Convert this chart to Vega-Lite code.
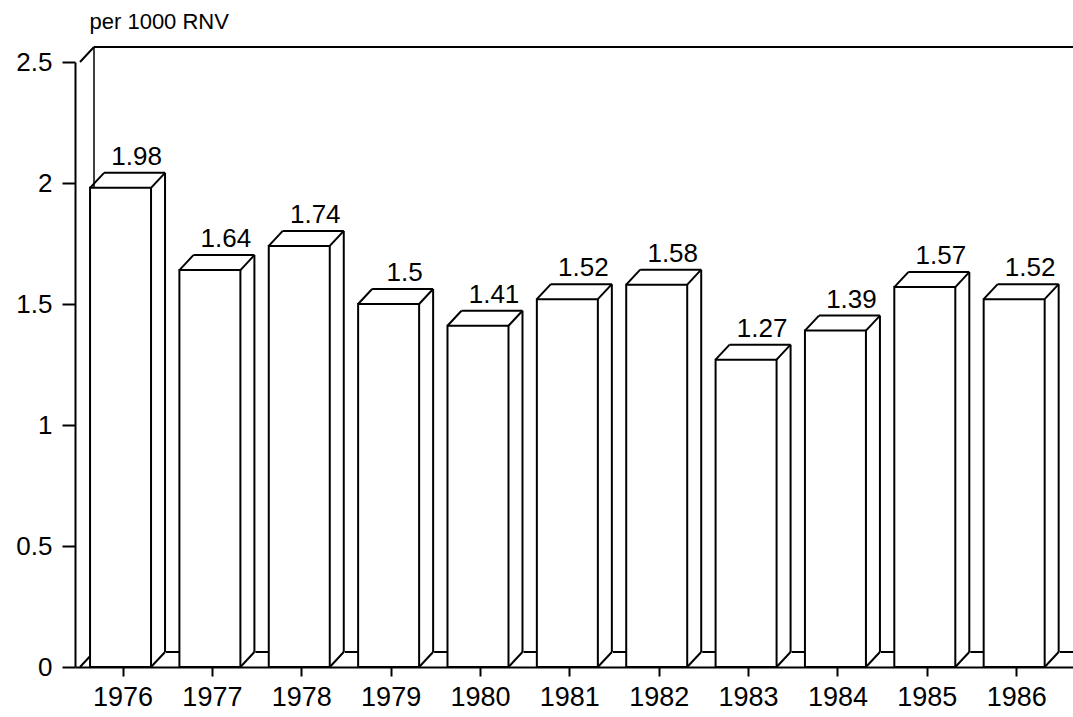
{
  "$schema": "https://vega.github.io/schema/vega-lite/v6.json",
  "autosize": "none",
  "width": 998,
  "height": 605,
  "padding": {"left": 75, "top": 62, "right": 0, "bottom": 50},
  "background": "white",
  "config": {
    "view": {"stroke": null},
    "font": "Liberation Sans",
    "axis": {"grid": false, "domainColor": "black", "tickColor": "black", "labelColor": "black", "titleColor": "black", "domainWidth": 2, "tickWidth": 2}
  },
  "datasets": {
    "frame": [
      {"start": 1975.524, "end": 1986.58, "level": 0},
      {"start": 1975.524, "end": 1986.58, "level": 2.5}
    ]
  },
  "data": {
    "values": [
      {"year": 1976, "value": 1.98},
      {"year": 1977, "value": 1.64},
      {"year": 1978, "value": 1.74},
      {"year": 1979, "value": 1.5},
      {"year": 1980, "value": 1.41},
      {"year": 1981, "value": 1.52},
      {"year": 1982, "value": 1.58},
      {"year": 1983, "value": 1.27},
      {"year": 1984, "value": 1.39},
      {"year": 1985, "value": 1.57},
      {"year": 1986, "value": 1.52}
    ]
  },
  "encoding": {
    "x": {
      "field": "year", "type": "quantitative",
      "scale": {"domain": [1975.524, 1986.58], "nice": false, "zero": false},
      "axis": {"values": [1976, 1977, 1978, 1979, 1980, 1981, 1982, 1983, 1984, 1985, 1986], "format": "d", "title": null, "tickSize": 9, "labelFontSize": 27, "labelPadding": 8, "labelFlush": false}
    },
    "y": {
      "field": "value", "type": "quantitative",
      "scale": {"domain": [0, 2.5], "nice": false},
      "axis": {"values": [0, 0.5, 1, 1.5, 2, 2.5], "format": "~g", "tickSize": 13, "labelFontSize": 26, "labelPadding": 10,
        "title": "per 1000 RNV", "titleAngle": 0, "titleAlign": "left", "titleBaseline": "alphabetic", "titleX": 14, "titleY": -34, "titleFontSize": 22, "titleFontWeight": "normal"}
    }
  },
  "layer": [
    {
      "data": {"name": "frame"},
      "mark": {"type": "rule", "color": "black", "strokeWidth": 2, "xOffset": 14, "x2Offset": 14, "yOffset": -15, "y2Offset": -15},
      "encoding": {
        "x": {"field": "start", "type": "quantitative"},
        "x2": {"field": "end"},
        "y": {"field": "level", "type": "quantitative"},
        "y2": {"field": "level"}
      }
    },
    {
      "data": {"name": "frame"},
      "mark": {"type": "rule", "color": "black", "strokeWidth": 2, "x2Offset": 14, "y2Offset": -15},
      "encoding": {
        "x": {"field": "start", "type": "quantitative"},
        "x2": {"field": "start"},
        "y": {"field": "level", "type": "quantitative"},
        "y2": {"field": "level"}
      }
    },
    {
      "data": {"name": "frame"},
      "transform": [{"filter": "datum.level == 0"}],
      "mark": {"type": "rule", "color": "black", "strokeWidth": 1.5, "xOffset": 14, "yOffset": -15, "y2Offset": -15},
      "encoding": {
        "x": {"field": "start", "type": "quantitative"},
        "y": {"field": "level", "type": "quantitative"},
        "y2": {"datum": 2.5}
      }
    },
    {
      "mark": {"type": "bar", "fill": "white", "strokeWidth": 0, "width": 15, "xOffset": 36, "yOffset": -15, "y2Offset": -13.5},
      "encoding": {"y2": {"datum": 0}}
    },
    {
      "mark": {"type": "bar", "fill": "white", "stroke": "black", "strokeWidth": 2, "width": 61, "xOffset": -2}
    },
    {
      "mark": {"type": "rule", "color": "black", "strokeWidth": 2, "xOffset": -18.5, "x2Offset": 42.5, "yOffset": -15, "y2Offset": -15},
      "encoding": {"x2": {"field": "year"}, "y2": {"field": "value"}}
    },
    {
      "mark": {"type": "rule", "color": "black", "strokeWidth": 2, "xOffset": 42.5, "yOffset": -15, "y2Offset": -15},
      "encoding": {"y2": {"datum": 0}}
    },
    {
      "mark": {"type": "rule", "color": "black", "strokeWidth": 2, "xOffset": -32.5, "x2Offset": -18.5, "y2Offset": -15},
      "encoding": {"x2": {"field": "year"}, "y2": {"field": "value"}}
    },
    {
      "mark": {"type": "rule", "color": "black", "strokeWidth": 2, "xOffset": 28.5, "x2Offset": 42.5, "y2Offset": -15},
      "encoding": {"x2": {"field": "year"}, "y2": {"field": "value"}}
    },
    {
      "mark": {"type": "rule", "color": "black", "strokeWidth": 2, "xOffset": 28.5, "x2Offset": 42.5, "y2Offset": -15},
      "encoding": {"y": {"datum": 0, "type": "quantitative"}, "x2": {"field": "year"}, "y2": {"datum": 0}}
    },
    {
      "mark": {"type": "text", "fontSize": 26, "color": "black", "align": "center", "baseline": "alphabetic", "dx": 14, "dy": -23},
      "encoding": {"text": {"field": "value", "type": "quantitative", "format": "~g"}}
    }
  ]
}
